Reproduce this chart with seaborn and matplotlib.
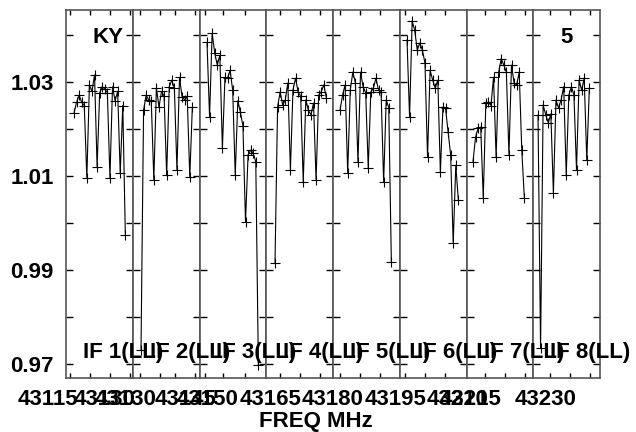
import numpy as np
import pandas as pd
import seaborn as sns
import matplotlib.pyplot as plt

sns.set_theme(style="ticks")
plt.rcParams['font.family'] = ['Liberation Sans', 'DejaVu Sans']

# amplitude per channel, 21 channels in each IF
channels = list(range(1, 22))
if1 = [1.0234, 1.0257, 1.0272, 1.0257, 1.0250, 1.0096, 1.0294, 1.0280, 1.0315, 1.0119, 1.0277,
       1.0290, 1.0285, 1.0277, 1.0096, 1.0290, 1.0260, 1.0280, 1.0106, 1.0250, 0.9974]
if2 = [0.9730, 1.0240, 1.0272, 1.0262, 1.0260, 1.0091, 1.0287, 1.0247, 1.0280, 1.0270, 1.0102,
       1.0290, 1.0304, 1.0287, 1.0113, 1.0310, 1.0268, 1.0262, 1.0270, 1.0098, 1.0247]
if3 = [1.0385, 1.0226, 1.0404, 1.0362, 1.0336, 1.0357, 1.0160, 1.0310, 1.0308, 1.0325, 1.0283,
       1.0102, 1.0260, 1.0236, 1.0206, 1.0002, 1.0145, 1.0155, 1.0149, 1.0130, 0.9698]
if4 = [0.9915, 1.0247, 1.0279, 1.0251, 1.0262, 1.0298, 1.0113, 1.0283, 1.0308, 1.0279, 1.0270,
       1.0087, 1.0262, 1.0240, 1.0230, 1.0255, 1.0091, 1.0272, 1.0279, 1.0294, 1.0266]
if5 = [1.0240, 1.0272, 1.0294, 1.0106, 1.0283, 1.0321, 1.0298, 1.0130, 1.0321, 1.0290, 1.0277,
       1.0117, 1.0279, 1.0287, 1.0308, 1.0283, 1.0278, 1.0087, 1.0262, 1.0245, 0.9917]
if6 = [1.0390, 1.0226, 1.0430, 1.0410, 1.0368, 1.0383, 1.0368, 1.0340, 1.0140, 1.0325, 1.0304,
       1.0287, 1.0304, 1.0108, 1.0247, 1.0245, 1.0194, 1.0145, 0.9957, 1.0123, 1.0049]
if7 = [1.0130, 1.0183, 1.0202, 1.0204, 1.0053, 1.0255, 1.0257, 1.0250, 1.0310, 1.0140, 1.0321,
       1.0350, 1.0336, 1.0321, 1.0145, 1.0336, 1.0298, 1.0294, 1.0321, 1.0155, 1.0053]
if8 = [1.0230, 0.9734, 1.0251, 1.0230, 1.0213, 1.0232, 1.0064, 1.0262, 1.0245, 1.0262, 1.0290,
       1.0102, 1.0272, 1.0290, 1.0272, 1.0113, 1.0304, 1.0283, 1.0308, 1.0134, 1.0287]
if_amps = [if1, if2, if3, if4, if5, if6, if7, if8]
if_labels = ['IF 1(LL)', 'IF 2(LL)', 'IF 3(LL)', 'IF 4(LL)', 'IF 5(LL)', 'IF 6(LL)', 'IF 7(LL)', 'IF 8(LL)']

freq_labels = ['43115', '43130', '43130', '43145', '43150', '43165', '43180', '43195',
               '43210', '43215', '43230']
y_major = [0.97, 0.99, 1.01, 1.03]
y_minor = [0.98, 1.00, 1.02, 1.04]

rows = []
for k, amps in enumerate(if_amps):
    for ch, a in zip(channels, amps):
        rows.append((k, ch, a))
df = pd.DataFrame(rows, columns=['IF', 'Channel', 'Amp'])

# layout in pixels
W, H = 636, 432
L, R, T, B = 66, 600, 10, 378
panel = (R - L) / 8
ch_px = panel / 26
lead_px = [8, 8.25, 7.5, 8.75, 7, 7.25, 6.5, 4.75]
tick_px = [[4, 24, 44, 64], [7, 27, 42, 62], [5.5, 23.5, 45.5], [13.75, 33.75, 53.75],
           [7, 27, 47], [5, 25, 45], [18.5, 38.5, 58.5], [16.75, 36.75, 56.75]]
freq_px = [18, 74, 95, 155, 177, 240, 302, 365, 427, 440, 515]


def px(x, y):
    return x / W, 1 - y / H


fig, axes = plt.subplots(1, 8, sharey=True, figsize=(W / 100, H / 100), dpi=100)
fig.subplots_adjust(left=L / W, right=R / W, top=1 - T / H, bottom=1 - B / H, wspace=0)

for k, ax in enumerate(axes):
    sub = df[df['IF'] == k]
    sns.lineplot(data=sub, x='Channel', y='Amp', ax=ax, color='black', linewidth=0.8,
                 marker='+', markersize=7, markeredgewidth=0.8, markeredgecolor='black')
    x0 = channels[0] - lead_px[k] / ch_px
    ax.set_xlim(x0, x0 + 26)
    ax.set_xticks([x0 + t / ch_px for t in tick_px[k]])
    ax.set_ylim(0.96702, 1.04532)
    ax.set_yticks(y_major)
    ax.set_yticks(y_minor, minor=True)
    ax.tick_params(axis='both', which='both', direction='in', color='black', width=1,
                   labelbottom=False, top=True, bottom=True, left=True, right=True)
    ax.tick_params(axis='y', which='both', length=5)
    ax.tick_params(axis='x', length=3.6)
    ax.set_xlabel('')
    ax.set_ylabel('')
    for sp in ax.spines.values():
        sp.set_color('#555555')
        sp.set_linewidth(1.2)

axes[0].set_yticklabels(['0.97', '0.99', '1.01', '1.03'], fontsize=16, fontweight='bold')
axes[0].tick_params(axis='y', pad=9, labelcolor='black')

txt = dict(fontsize=16, fontweight='bold', color='black', va='baseline')
fig.text(*px(92, 43), 'KY', ha='left', **txt)
fig.text(*px(560, 43), '5', ha='left', **txt)
for k, lab in enumerate(if_labels):
    fig.text(*px(L + panel * k + 17, 358), lab, ha='left', **txt)
for lab, x in zip(freq_labels, freq_px):
    fig.text(*px(x, 405), lab, ha='left', **txt)
fig.text(*px(316, 427), 'FREQ MHz', ha='center', **txt)

plt.savefig('out.png', dpi=100)
